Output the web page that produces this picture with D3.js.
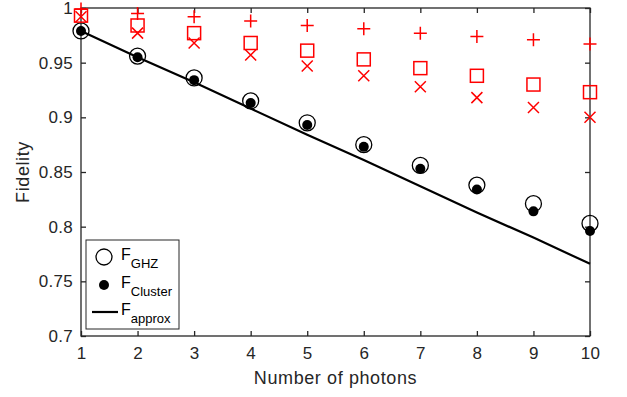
<!DOCTYPE html>
<html>
<head>
<meta charset="UTF-8">
<script src="https://d3js.org/d3.v7.min.js"></script>
<style>
  body { margin: 0; background: #fff; font-family: "Liberation Sans", Arial, sans-serif; }
  #chart { width: 627px; height: 397px; }
</style>
</head>
<body>
<div id="chart"></div>
<script>
const photons = [1, 2, 3, 4, 5, 6, 7, 8, 9, 10];
const ghz     = [0.979, 0.956, 0.936, 0.915, 0.895, 0.875, 0.856, 0.838, 0.821, 0.803];
const cluster = [0.979, 0.955, 0.934, 0.913, 0.893, 0.873, 0.853, 0.834, 0.814, 0.796];
const approx  = [0.979, 0.955, 0.932, 0.908, 0.884, 0.861, 0.837, 0.813, 0.790, 0.766];
const redPlus   = [0.999, 0.995, 0.992, 0.988, 0.984, 0.981, 0.977, 0.974, 0.971, 0.967];
const redSquare = [0.993, 0.984, 0.977, 0.968, 0.961, 0.953, 0.945, 0.938, 0.930, 0.923];
const redCross  = [0.992, 0.977, 0.968, 0.957, 0.947, 0.938, 0.928, 0.918, 0.909, 0.900];
const xTicks = [1, 2, 3, 4, 5, 6, 7, 8, 9, 10];
const yTicks = [0.7, 0.75, 0.8, 0.85, 0.9, 0.95, 1];

const width = 627, height = 397;
const margin = { left: 81, right: 37, top: 8, bottom: 61 };
const svg = d3.select("#chart").append("svg")
  .attr("width", width).attr("height", height);

const x = d3.scaleLinear().domain([1, 10]).range([margin.left, width - margin.right]);
const y = d3.scaleLinear().domain([0.7, 1]).range([height - margin.bottom, margin.top]);
const axisColor = "#262626";

// box
svg.append("rect")
  .attr("x", x(1)).attr("y", y(1))
  .attr("width", x(10) - x(1)).attr("height", y(0.7) - y(1))
  .attr("fill", "none").attr("stroke", axisColor).attr("stroke-width", 1.3);

const fmt = d => String(+d.toFixed(2));

const xAxis = svg.append("g").attr("transform", `translate(0,${y(0.7)})`)
  .call(d3.axisBottom(x).tickValues(xTicks).tickSizeInner(-5).tickSizeOuter(0).tickPadding(11).tickFormat(d3.format("d")));
const xAxisTop = svg.append("g").attr("transform", `translate(0,${y(1)})`)
  .call(d3.axisTop(x).tickValues(xTicks).tickSizeInner(-5).tickSizeOuter(0).tickFormat(""));
const yAxis = svg.append("g").attr("transform", `translate(${x(1)},0)`)
  .call(d3.axisLeft(y).tickValues(yTicks).tickSizeInner(-5).tickSizeOuter(0).tickPadding(8).tickFormat(fmt));
const yAxisRight = svg.append("g").attr("transform", `translate(${x(10)},0)`)
  .call(d3.axisRight(y).tickValues(yTicks).tickSizeInner(-5).tickSizeOuter(0).tickFormat(""));

[xAxis, xAxisTop, yAxis, yAxisRight].forEach(g => {
  g.select(".domain").remove();
  g.selectAll(".tick line").attr("stroke", axisColor).attr("stroke-width", 1.3);
  g.selectAll(".tick text").attr("fill", axisColor)
    .style("font-size", "17px").style("letter-spacing", "0.3px")
    .style("font-family", "Liberation Sans, Arial, sans-serif");
});

// axis titles
svg.append("text").attr("x", (x(1) + x(10)) / 2).attr("y", 384)
  .attr("text-anchor", "middle").attr("fill", axisColor)
  .style("font-size", "18px").style("letter-spacing", "0.6px").text("Number of photons");
svg.append("text")
  .attr("transform", `translate(29,${(y(0.7) + y(1)) / 2}) rotate(-90)`)
  .attr("text-anchor", "middle").attr("fill", axisColor)
  .style("font-size", "18px").style("letter-spacing", "0.6px").text("Fidelity");

const red = "#ff0000";

// approx line
svg.append("path")
  .datum(photons.map((p, i) => [p, approx[i]]))
  .attr("fill", "none").attr("stroke", "#000").attr("stroke-width", 2.2)
  .attr("d", d3.line().x(d => x(d[0])).y(d => y(d[1])));

// GHZ circles
svg.append("g").selectAll("circle").data(photons).join("circle")
  .attr("cx", d => x(d)).attr("cy", (d, i) => y(ghz[i])).attr("r", 8)
  .attr("fill", "none").attr("stroke", "#000").attr("stroke-width", 1.3);

// Cluster dots
svg.append("g").selectAll("circle").data(photons).join("circle")
  .attr("cx", d => x(d)).attr("cy", (d, i) => y(cluster[i])).attr("r", 5)
  .attr("fill", "#000");

// red plus
svg.append("g").selectAll("path").data(photons).join("path")
  .attr("d", (d, i) => {
    const cx = x(d), cy = y(redPlus[i]), s = 6.5;
    return `M${cx - s},${cy}H${cx + s}M${cx},${cy - s}V${cy + s}`;
  })
  .attr("stroke", red).attr("stroke-width", 1.5).attr("fill", "none");

// red squares
svg.append("g").selectAll("rect").data(photons).join("rect")
  .attr("x", d => x(d) - 6.5).attr("y", (d, i) => y(redSquare[i]) - 6.5)
  .attr("width", 13).attr("height", 13)
  .attr("stroke", red).attr("stroke-width", 1.5).attr("fill", "none");

// red crosses
svg.append("g").selectAll("path").data(photons).join("path")
  .attr("d", (d, i) => {
    const cx = x(d), cy = y(redCross[i]), s = 5.5;
    return `M${cx - s},${cy - s}L${cx + s},${cy + s}M${cx - s},${cy + s}L${cx + s},${cy - s}`;
  })
  .attr("stroke", red).attr("stroke-width", 1.5).attr("fill", "none");

// legend
const lg = svg.append("g");
lg.append("rect").attr("x", 86).attr("y", 240).attr("width", 93).attr("height", 89)
  .attr("fill", "#fff").attr("stroke", axisColor).attr("stroke-width", 1);
const legendItems = [
  { sub: "GHZ", y: 257, kind: "circle" },
  { sub: "Cluster", y: 285, kind: "dot" },
  { sub: "approx", y: 312, kind: "line" }
];
legendItems.forEach(it => {
  if (it.kind === "circle") {
    lg.append("circle").attr("cx", 104).attr("cy", it.y).attr("r", 8)
      .attr("fill", "none").attr("stroke", "#000").attr("stroke-width", 1.3);
  } else if (it.kind === "dot") {
    lg.append("circle").attr("cx", 104).attr("cy", it.y).attr("r", 5).attr("fill", "#000");
  } else {
    lg.append("line").attr("x1", 92).attr("x2", 118).attr("y1", it.y).attr("y2", it.y)
      .attr("stroke", "#000").attr("stroke-width", 2.2);
  }
  const t = lg.append("text").attr("x", 121).attr("y", it.y + 3).attr("fill", "#000")
    .style("font-size", "16px");
  t.append("tspan").text("F");
  t.append("tspan").attr("dy", 8).style("font-size", "13px").text(it.sub);
});
</script>
</body>
</html>
